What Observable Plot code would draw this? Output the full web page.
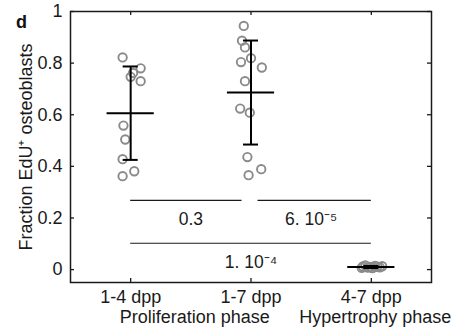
<!DOCTYPE html>
<html><head><meta charset="utf-8">
<script src="https://cdn.jsdelivr.net/npm/d3@7"></script>
<script src="https://cdn.jsdelivr.net/npm/@observablehq/plot@0.6"></script>
<style>
body{margin:0;background:#fff}
#c{position:relative;width:454px;height:334px}
#d{position:absolute;left:16px;top:13px;font:bold 18px "Liberation Sans",Arial,sans-serif;line-height:1;color:#111}
</style></head><body><div id="c"><div id="d">d</div></div>
<script>
// categories
const groups = [1, 2, 3];
const groupLabels = ["1-4 dpp", "1-7 dpp", "4-7 dpp"];
const phaseLabels = ["Proliferation phase", "Hypertrophy phase"];
const phaseFrom = [1, 3];
const phaseTo = [2, 3];
// individual samples (value, horizontal scatter offset)
const g1Values = [0.822, 0.780, 0.762, 0.747, 0.730, 0.558, 0.504, 0.428, 0.381, 0.362];
const g1Offset = [-0.067, 0.083, 0.020, 0.000, 0.083, -0.060, -0.045, -0.067, 0.030, -0.067];
const g2Values = [0.944, 0.887, 0.861, 0.819, 0.804, 0.783, 0.730, 0.624, 0.608, 0.436, 0.389, 0.366];
const g2Offset = [-0.060, -0.075, -0.050, 0.000, -0.083, 0.090, -0.050, -0.090, -0.010, -0.030, 0.085, -0.020];
const g3Values = [0.012, 0.016, 0.008, 0.010, 0.006, 0.014, 0.011, 0.009, 0.013, 0.007];
const g3Offset = [-0.07, -0.05, -0.03, -0.01, 0.01, 0.03, 0.05, 0.07, 0.09, -0.08];
// summary
const means = [0.606, 0.686, 0.010];
const sds = [0.181, 0.2015, 0.004];
// axis ticks
const yTicks = [0, 0.2, 0.4, 0.6, 0.8, 1];
const yTickLabels = ["0", "0.2", "0.4", "0.6", "0.8", "1"];
// significance
const sigFrom = [1, 2, 1];
const sigTo = [2, 3, 3];
const sigY = [0.268, 0.268, 0.102];
const sigText = ["0.3", "6. 10\u207B\u2075", "1. 10\u207B\u2074"];

const points = [];
[[g1Values, g1Offset], [g2Values, g2Offset], [g3Values, g3Offset]].forEach(([vals, offs], i) => {
  vals.forEach((v, j) => points.push({x: groups[i] + offs[j], y: v}));
});
const summary = groups.map((g, i) => ({g, mean: means[i], lo: means[i] - sds[i], hi: means[i] + sds[i]}));
const sig = sigFrom.map((f, i) => ({x1: f, x2: sigTo[i], y: sigY[i], text: sigText[i]}));
const phases = phaseLabels.map((t, i) => ({x: (phaseFrom[i] + phaseTo[i]) / 2, text: t}));

const W = 454, H = 334, mL = 70, mT = 11, mR = 23, mB = 52;
const frameW = W - mL - mR, frameH = H - mT - mB;
const ink = "#1a1a1a";
const MEANW = 0.196, CAPW = 0.0625;

const chart = Plot.plot({
  width: W, height: H,
  marginLeft: mL, marginTop: mT, marginRight: mR, marginBottom: mB,
  style: {fontFamily: "'Liberation Sans', Arial, Helvetica, sans-serif", fontSize: "18px", color: ink, background: "#fff"},
  x: {type: "linear", domain: [0.5, 3.5]},
  y: {domain: [-0.05, 1]},
  marks: [
    Plot.frame({stroke: ink, strokeWidth: 1.5}),
    // inward ticks
    Plot.tickX(groups, {x: d => d, insetTop: frameH - 4, stroke: ink, strokeWidth: 1.3}),
    Plot.tickX(groups, {x: d => d, insetBottom: frameH - 4, stroke: ink, strokeWidth: 1.3}),
    Plot.tickY(yTicks, {y: d => d, insetRight: frameW - 4, stroke: ink, strokeWidth: 1.3}),
    Plot.tickY(yTicks, {y: d => d, insetLeft: frameW - 4, stroke: ink, strokeWidth: 1.3}),
    Plot.axisX(groups, {tickSize: 0, tickPadding: 8, tickFormat: d => groupLabels[d - 1], fontSize: 18, fill: ink, label: null}),
    Plot.text(phases, {x: "x", text: "text", frameAnchor: "bottom", dy: 40, dx: 4, fontSize: 18, fill: ink}),
    Plot.axisY(yTicks, {tickSize: 0, tickPadding: 8, tickFormat: (d, i) => yTickLabels[i], fontSize: 18, fill: ink,
      label: "Fraction EdU\u207A osteoblasts", labelAnchor: "center", labelOffset: 51, labelArrow: "none"}),
    // significance bars
    Plot.ruleY([sig[0]], {y: "y", x1: "x1", x2: "x2", insetRight: 9, stroke: ink, strokeWidth: 1.2}),
    Plot.ruleY([sig[1]], {y: "y", x1: "x1", x2: "x2", insetLeft: 7, stroke: ink, strokeWidth: 1.2}),
    Plot.ruleY([sig[2]], {y: "y", x1: "x1", x2: "x2", stroke: ink, strokeWidth: 1.2}),
    Plot.text(sig, {x: d => (d.x1 + d.x2) / 2, y: "y", text: "text", dy: 19, fontSize: 17.5, fill: ink}),
    // samples
    Plot.dot(points, {x: "x", y: "y", r: 4.2, stroke: "#8a8a8a", strokeWidth: 1.9, fill: "none"}),
    // mean and sd
    Plot.ruleY(summary, {y: "mean", x1: d => d.g - MEANW, x2: d => d.g + MEANW, stroke: "#000", strokeWidth: 2}),
    Plot.ruleX(summary, {x: "g", y1: "lo", y2: "hi", stroke: "#000", strokeWidth: 2}),
    Plot.ruleY(summary, {y: "lo", x1: d => d.g - CAPW, x2: d => d.g + CAPW, stroke: "#000", strokeWidth: 2}),
    Plot.ruleY(summary, {y: "hi", x1: d => d.g - CAPW, x2: d => d.g + CAPW, stroke: "#000", strokeWidth: 2})
  ]
});
document.getElementById("c").prepend(chart);
</script>
</body></html>
